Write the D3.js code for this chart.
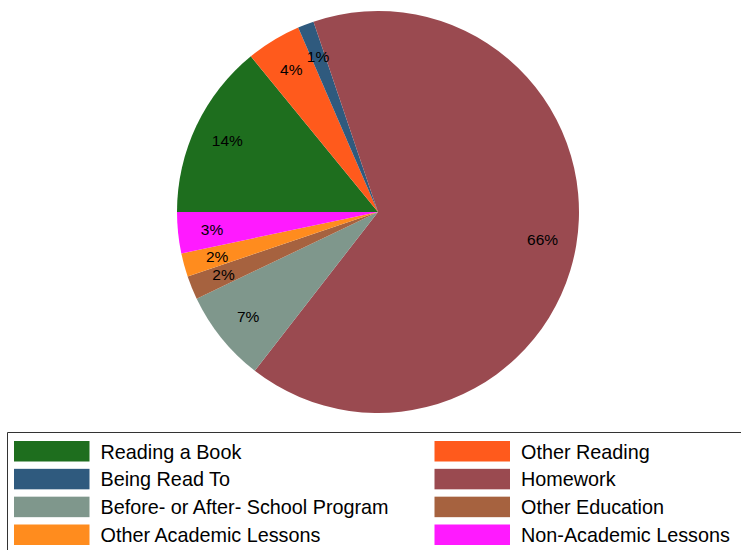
<!DOCTYPE html>
<html>
<head>
<meta charset="utf-8">
<script src="https://cdn.jsdelivr.net/npm/d3@7"></script>
<style>
  html, body { margin: 0; padding: 0; background: #fff; }
  svg { display: block; font-family: "Liberation Sans", Arial, Helvetica, sans-serif; }
</style>
</head>
<body>
<svg id="chart" width="741" height="550"></svg>
<script>
// Share of time spent on each activity (percent)
const categories = [
  "Reading a Book",
  "Other Reading",
  "Being Read To",
  "Homework",
  "Before- or After- School Program",
  "Other Education",
  "Other Academic Lessons",
  "Non-Academic Lessons"
];
const shares = [14.1, 4.4, 1.3, 65.7, 7.4, 1.9, 1.9, 3.3];
const colors = ["#1e6e1e", "#ff5a1c", "#2f5a7e", "#9a4a50", "#7f978c", "#a6623f", "#ff8c1e", "#ff1aff"];

const data = categories.map((c, i) => ({ name: c, value: shares[i], color: colors[i] }));

const svg = d3.select("#chart");
const cx = 378, cy = 212, R = 201;

// Slices run clockwise starting at 9 o'clock
const pie = d3.pie()
  .sort(null)
  .value(d => d.value)
  .startAngle(-Math.PI / 2)
  .endAngle(3 * Math.PI / 2);

const arc = d3.arc().innerRadius(0).outerRadius(R);
const labelArc = d3.arc().innerRadius(R * 0.83).outerRadius(R * 0.83);

const arcs = pie(data);
const g = svg.append("g").attr("transform", `translate(${cx},${cy})`);

g.selectAll("path.slice")
  .data(arcs)
  .join("path")
  .attr("class", "slice")
  .attr("d", arc)
  .attr("fill", d => d.data.color);

const fmt = d3.format(".0f");
g.selectAll("text.pct")
  .data(arcs)
  .join("text")
  .attr("class", "pct")
  .attr("transform", d => `translate(${labelArc.centroid(d)})`)
  .attr("text-anchor", "middle")
  .attr("dominant-baseline", "central")
  .attr("font-size", 15.5)
  .attr("fill", "#000")
  .text(d => fmt(d.data.value) + "%");

// Legend: two columns, four rows
const legendG = svg.append("g");
legendG.append("path")
  .attr("d", "M7.5,552 V432.5 H742")
  .attr("fill", "none")
  .attr("stroke", "#333")
  .attr("stroke-width", 1);

const col = d3.scaleOrdinal().domain([0, 1]).range([14, 434.5]);
const row = d3.scaleLinear().domain([0, 3]).range([441, 524.5]);

const items = legendG.selectAll("g.item")
  .data(data)
  .join("g")
  .attr("class", "item")
  .attr("transform", (d, i) => `translate(${col(i % 2)},${row(Math.floor(i / 2))})`);

items.append("rect")
  .attr("width", 75.5)
  .attr("height", 20.5)
  .attr("fill", d => d.color);

items.append("text")
  .attr("x", 86.5)
  .attr("y", 10.5)
  .attr("dominant-baseline", "central")
  .attr("font-size", 19.8)
  .attr("fill", "#000")
  .text(d => d.name);
</script>
</body>
</html>
